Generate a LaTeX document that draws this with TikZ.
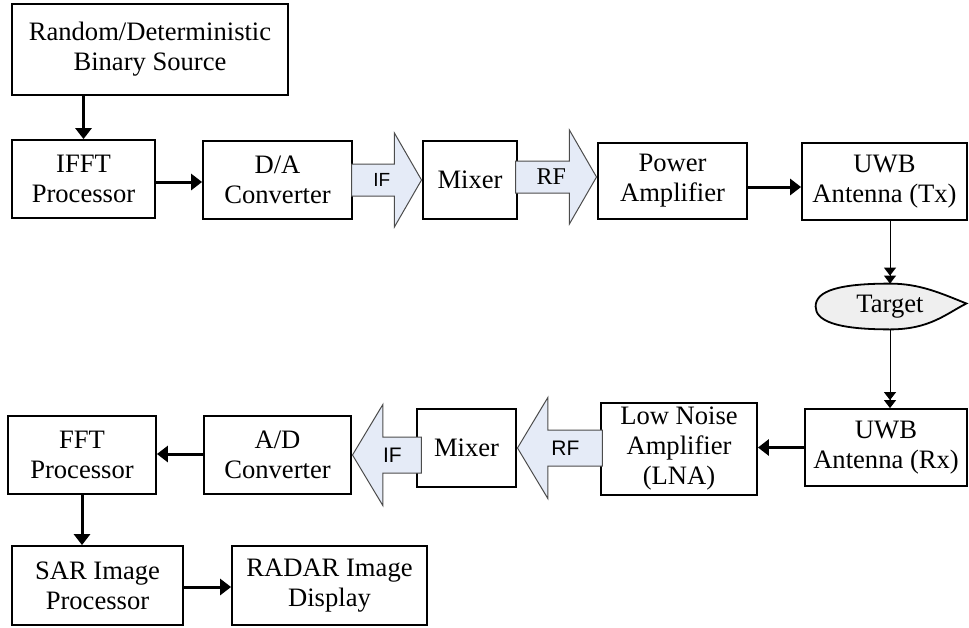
\documentclass[tikz,border=0pt]{standalone}
\usepackage{fontspec}
\setmainfont{Liberation Serif}
\newfontfamily\arialfont{Liberation Sans}
\newfontfamily\timesfont{Liberation Serif}
\usetikzlibrary{arrows.meta,shapes.arrows,backgrounds}
\definecolor{fatfill}{HTML}{E5EBF7}
\definecolor{blobfill}{HTML}{EFEFEF}

\begin{document}
\begin{tikzpicture}
[
    x=0.5pt, y=-0.5pt,
    block/.style={draw, line width=0.9pt, align=center, inner sep=0pt, minimum height=39pt, font=\fontsize{13.3}{15}\selectfont},
    flow/.style={-{Triangle[length=5.5pt,width=8pt]}, line width=1.5pt},
    thinflow/.style={-{Triangle[length=4pt,width=6pt] Triangle[length=4pt,width=6pt]}, line width=0.5pt},
    fatarrow/.style={single arrow, draw=black!70, line width=0.5pt, fill=fatfill, inner sep=0pt, anchor=tip,
        single arrow tip angle=120, single arrow head extend=15.5pt, text height=11.2pt, text depth=4.3pt},
    fatleft/.style={fatarrow, shape border rotate=180, single arrow tip angle=118, single arrow head extend=16.25pt,
        text height=12.5pt, text depth=5pt, font=\arialfont\fontsize{10.5}{10.5}\selectfont},
]
\useasboundingbox (0,0) rectangle (969,627);

\node[block, minimum width=138pt, minimum height=45.5pt] (src) at (150,49.5) {Random/Deterministic\\Binary Source};
\node[block, minimum width=71.5pt] (ifft) at (83.5,179) {IFFT\\Processor};
\node[block, minimum width=74.5pt] (da) at (277.5,180) {D/A\\Converter};
\node[block, minimum width=47pt] (mixT) at (470,180) {Mixer};
\node[block, minimum width=74.5pt, minimum height=38pt] (pa) at (672.5,181) {Power\\Amplifier};
\node[block, minimum width=82.5pt, minimum height=38.5pt] (tx) at (884.5,181.5) {UWB\\Antenna (Tx)};
\node[minimum width=74pt, minimum height=22.5pt, inner sep=0pt, font=\fontsize{13.3}{15}\selectfont] (target) at (890,306.5) {Target};
\node[block, minimum width=81pt, minimum height=38.5pt] (rx) at (886,447.5) {UWB\\Antenna (Rx)};
\node[block, minimum width=78pt, minimum height=46pt] (lna) at (679,449) {Low Noise\\Amplifier\\(LNA)};
\node[block, minimum width=49.5pt] (mixB) at (466.5,448) {Mixer};
\node[block, minimum width=73.5pt] (ad) at (277.5,455) {A/D\\Converter};
\node[block, minimum width=74pt] (fft) at (82,455) {FFT\\Processor};
\node[block, minimum width=85.5pt, minimum height=39.5pt] (sar) at (97.5,585.5) {SAR Image\\Processor};
\node[block, minimum width=97.5pt, minimum height=39.5pt] (radar) at (329.5,585.5) {RADAR Image\\Display};

\node[fatarrow, minimum height=35pt, font=\arialfont\fontsize{9.5}{9.5}\selectfont] (ifT) at (mixT.west) {IF};
\node[fatarrow, minimum height=40.5pt, text height=11.7pt, text depth=3.8pt, font=\timesfont\fontsize{12}{12}\selectfont] (rfT) at ([yshift=2pt]pa.west) {RF};
\node[fatleft, minimum height=42.5pt] (rfB) at (mixB.east) {RF};
\node[fatleft, minimum height=34.5pt] (ifB) at (ad.east) {IF};

\coordinate (tgtip) at ([xshift=1pt,yshift=1.5pt]target.east);
\begin{scope}[on background layer]
\draw[line width=0.9pt, fill=blobfill] (target.west) .. controls +(0,-16) and +(-50,0) .. (target.north)
    .. controls +(30,0) and +(-25,-10) .. (tgtip) .. controls +(-20,10) and +(40,0) .. (target.south)
    .. controls +(-55,0) and +(0,14) .. (target.west) -- cycle;
\end{scope}

\draw[flow] (src.south -| ifft) -- (ifft);
\draw[flow] ([yshift=-1.5pt]ifft.east) -- ([yshift=-1.5pt]ifft.east -| da.west);
\draw[flow] ([yshift=-3pt]pa.east) -- ([yshift=-3pt]pa.east -| tx.west);
\draw[thinflow] (target.north |- tx.south) -- (target.north);
\draw[thinflow] (target.south) -- (target.south |- rx.north);
\draw[flow] (rx.west) -- (rx.west -| lna.east);
\draw[flow] ([yshift=0.5pt]ad.west) -- ([yshift=0.5pt]ad.west -| fft.east);
\draw[flow] (fft.south) -- (fft.south |- sar.north);
\draw[flow] ([yshift=-0.75pt]sar.east) -- ([yshift=-0.75pt]sar.east -| radar.west);
\end{tikzpicture}
\end{document}
